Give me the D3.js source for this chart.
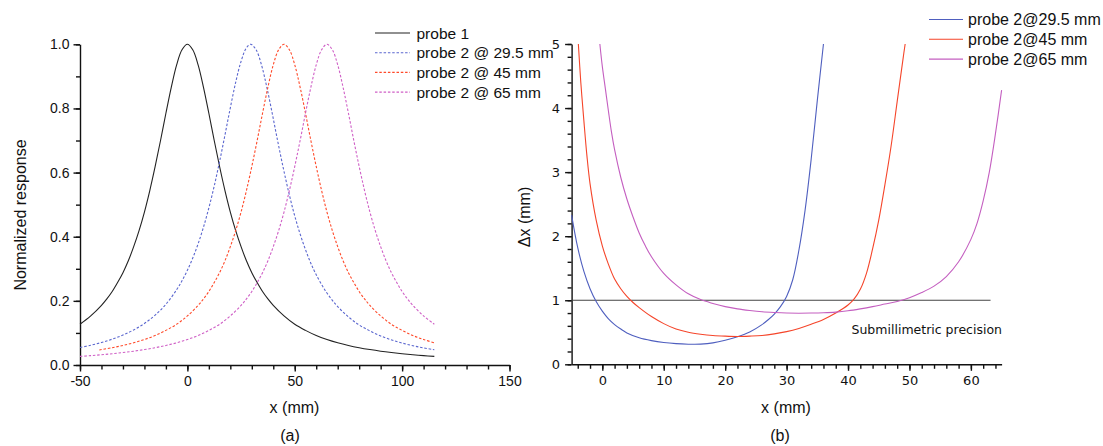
<!DOCTYPE html>
<html>
<head>
<meta charset="utf-8">
<script src="https://cdn.jsdelivr.net/npm/d3@7"></script>
<style>
  html, body { margin: 0; padding: 0; background: #fff; }
  svg { display: block; }
  text { font-family: "Liberation Sans", Arial, sans-serif; fill: #111; }
</style>
</head>
<body>
<svg id="chart" width="1103" height="446"></svg>
<script>
// ---------- Panel (a) data: normalized response ----------
const probe1X = [-50,-45,-40,-37.5,-35,-32.5,-30,-27.5,-25,-22.5,-20,-17.5,-15,-12.5,-10,-7.5,-5,-2.5,0,2.5,5,7.5,10,12.5,15,17.5,20,22.5,25,27.5,30,32.5,35,37.5,40,45,50,55,60,65,70,75,80,85,90,95,100,105,110,115];
const probe1Y = [0.127,0.153,0.186,0.206,0.229,0.257,0.288,0.325,0.369,0.419,0.477,0.544,0.619,0.70,0.785,0.866,0.936,0.983,1.0,0.983,0.936,0.866,0.785,0.70,0.619,0.544,0.477,0.419,0.369,0.325,0.288,0.257,0.229,0.206,0.186,0.153,0.127,0.108,0.092,0.0795,0.0693,0.0609,0.0539,0.0481,0.0431,0.0389,0.0352,0.032,0.0293,0.0268];

const p295X = [-50,-45,-40,-35,-30,-25,-20,-15,-10,-5,-2.5,0,2.5,5,7.5,10,12.5,15,17.5,20,22.5,25,27.5,29.5,32,34.5,37,39.5,42,44.5,47,49.5,52,54.5,57,59.5,64.5,69.5,74.5,79.5,84.5,89.5,94.5,99.5,104.5,109.5,115];
const p295Y = [0.0546,0.0617,0.0702,0.0806,0.0934,0.1094,0.1296,0.1556,0.1895,0.2346,0.2627,0.2954,0.3335,0.378,0.4298,0.4897,0.558,0.6345,0.717,0.802,0.8816,0.947,0.989,1.0,0.983,0.936,0.866,0.785,0.70,0.619,0.544,0.477,0.419,0.369,0.325,0.288,0.229,0.186,0.153,0.127,0.108,0.092,0.0795,0.0693,0.0609,0.0539,0.0475];

const p45X = [-41,-35,-30,-25,-20,-15,-10,-5,0,5,7.5,10,12.5,15,17.5,20,22.5,25,27.5,30,32.5,35,37.5,40,42.5,45,47.5,50,52.5,55,57.5,60,62.5,65,67.5,70,72.5,75,77.5,80,82.5,85,90,95,100,105,110,115];
const p45Y = [0.047,0.0539,0.0609,0.0693,0.0795,0.092,0.108,0.127,0.153,0.186,0.206,0.229,0.257,0.288,0.325,0.369,0.419,0.477,0.544,0.619,0.70,0.785,0.866,0.936,0.983,1.0,0.983,0.936,0.866,0.785,0.70,0.619,0.544,0.477,0.419,0.369,0.325,0.288,0.257,0.229,0.206,0.186,0.153,0.127,0.108,0.092,0.0795,0.0693];

const p65X = [-50,-45,-40,-35,-30,-25,-20,-15,-10,-5,0,5,10,15,20,25,27.5,30,32.5,35,37.5,40,42.5,45,47.5,50,52.5,55,57.5,60,62.5,65,67.5,70,72.5,75,77.5,80,82.5,85,87.5,90,92.5,95,97.5,100,102.5,105,110,115];
const p65Y = [0.0268,0.0293,0.032,0.0352,0.0389,0.0431,0.0481,0.0539,0.0609,0.0693,0.0795,0.092,0.108,0.127,0.153,0.186,0.206,0.229,0.257,0.288,0.325,0.369,0.419,0.477,0.544,0.619,0.70,0.785,0.866,0.936,0.983,1.0,0.983,0.936,0.866,0.785,0.70,0.619,0.544,0.477,0.419,0.369,0.325,0.288,0.257,0.229,0.206,0.186,0.153,0.127];

const legendA = ["probe 1", "probe 2 @ 29.5 mm", "probe 2 @ 45 mm", "probe 2 @ 65 mm"];
const xTicksA = [-50, 0, 50, 100, 150];
const yTicksA = [0, 0.2, 0.4, 0.6, 0.8, 1.0];

// ---------- Panel (b) data: position uncertainty ----------
const dx295X = [-5,-4,-3,-2,-1,0,1,2,3,4,6,8,10,12,14,15,16,18,20,22,24,26,27,28,29,30,31,32,33,34,35,36];
const dx295Y = [2.33,1.82,1.45,1.18,0.98,0.83,0.71,0.62,0.55,0.49,0.415,0.37,0.34,0.322,0.313,0.312,0.315,0.335,0.375,0.43,0.505,0.62,0.695,0.785,0.9,1.06,1.32,1.78,2.4,3.2,4.12,5.0];

const dx45X = [-3.9,-3.5,-3,-2.5,-2,-1,0,1,2,3,4,5,6,8,10,12,14,16,18,20,22,24,26,28,30,32,34,36,38,40,41,42,43,44,45,46,47,48,49,49.3];
const dx45Y = [5.0,4.4,3.8,3.25,2.82,2.25,1.85,1.56,1.33,1.18,1.06,0.965,0.885,0.745,0.635,0.55,0.5,0.47,0.45,0.44,0.435,0.44,0.45,0.475,0.51,0.56,0.625,0.70,0.80,0.925,1.02,1.17,1.42,1.8,2.25,2.8,3.4,4.1,4.8,5.0];

const dx65X = [-0.4,0,0.5,1,1.5,2,3,4,5,6,7,8,10,12,14,16,18,20,22,24,26,28,30,32,34,36,38,40,42,44,46,48,50,52,54,56,58,60,61,62,63,64,65];
const dx65Y = [5.0,4.65,4.3,3.95,3.62,3.35,2.92,2.58,2.3,2.05,1.85,1.68,1.42,1.24,1.1,1.01,0.95,0.9,0.865,0.84,0.82,0.808,0.8,0.798,0.8,0.805,0.815,0.835,0.865,0.9,0.94,0.98,1.04,1.12,1.22,1.37,1.6,1.95,2.2,2.55,3.0,3.6,4.28];

const legendB = ["probe 2@29.5 mm", "probe 2@45 mm", "probe 2@65 mm"];
const xTicksB = [0, 10, 20, 30, 40, 50, 60];
const yTicksB = [0, 1, 2, 3, 4, 5];
const thresholdX = [-5, 63.2];
const thresholdY = [1, 1];

// ---------- Drawing ----------
const svg = d3.select("#chart");
const colBlackA = "#222", colBlueA = "#5b67cf", colRedA = "#ff4a2a", colMagA = "#cf5fc6";
const colBlueB = "#4f5fbf", colRedB = "#f5452a", colMagB = "#c45fc0";

function zip(xs, ys) { return xs.map((x, i) => [x, ys[i]]); }

// Panel (a)
const xA = d3.scaleLinear().domain([-50, 150]).range([80, 509.5]);
const yA = d3.scaleLinear().domain([0, 1]).range([365, 44.3]);
const gA = svg.append("g");

gA.append("g").attr("transform", `translate(0,${yA(0)})`)
  .call(d3.axisBottom(xA).tickValues(d3.range(-50, 151, 10)).tickSize(4.5).tickFormat(""))
  .call(g => g.select(".domain").remove());
gA.append("g").attr("transform", `translate(0,${yA(0)})`)
  .call(d3.axisBottom(xA).tickValues(xTicksA).tickSize(6.5).tickSizeOuter(0).tickPadding(5).tickFormat(d => String(d)))
  .call(g => g.selectAll("text").style("font-size", "14px").style("font-family", "Liberation Sans"));
gA.append("g").attr("transform", `translate(${xA(-50)},0)`)
  .call(d3.axisLeft(yA).tickValues(d3.range(0, 1.01, 0.1)).tickSize(4).tickFormat(""))
  .call(g => g.select(".domain").remove());
gA.append("g").attr("transform", `translate(${xA(-50)},0)`)
  .call(d3.axisLeft(yA).tickValues(yTicksA).tickSize(6.5).tickSizeOuter(0).tickPadding(4).tickFormat(d3.format(".1f")))
  .call(g => g.selectAll("text").style("font-size", "14px").style("font-family", "Liberation Sans"));
gA.selectAll(".domain, .tick line").attr("stroke", "#111").attr("stroke-width", 1.4);

const lineA = d3.line().x(d => xA(d[0])).y(d => yA(d[1])).curve(d3.curveCatmullRom.alpha(0.5));
const seriesA = [
  { data: zip(probe1X, probe1Y), color: colBlackA, dash: null },
  { data: zip(p295X, p295Y), color: colBlueA, dash: "2.5,1.8" },
  { data: zip(p45X, p45Y), color: colRedA, dash: "2.5,1.8" },
  { data: zip(p65X, p65Y), color: colMagA, dash: "2.5,1.8" }
];
seriesA.forEach(s => {
  gA.append("path").datum(s.data).attr("d", lineA)
    .attr("fill", "none").attr("stroke", s.color).attr("stroke-width", 1.1)
    .attr("stroke-dasharray", s.dash);
});

// legend (a)
seriesA.forEach((s, i) => {
  const y = 33 + i * 19.7;
  gA.append("line").attr("x1", 375).attr("x2", 410).attr("y1", y).attr("y2", y)
    .attr("stroke", s.color).attr("stroke-width", 1.1).attr("stroke-dasharray", s.dash);
  gA.append("text").attr("x", 416.5).attr("y", y + 5.6).style("font-size", "15.5px").text(legendA[i]);
});

gA.append("text").attr("x", 294.5).attr("y", 413).attr("text-anchor", "middle").style("font-size", "16px").text("x (mm)");
gA.append("text").attr("x", 290).attr("y", 441).attr("text-anchor", "middle").style("font-size", "16px").text("(a)");
gA.append("text").attr("transform", "translate(25.5,215) rotate(-90)").attr("text-anchor", "middle").style("font-size", "16px").text("Normalized response");

// Panel (b)
const xB = d3.scaleLinear().domain([-5, 65]).range([571.6, 1001.6]);
const yB = d3.scaleLinear().domain([0, 5]).range([364.3, 44]);
const gB = svg.append("g");

gB.append("g").attr("transform", `translate(0,${yB(0)})`)
  .call(d3.axisBottom(xB).tickValues(d3.range(-4, 65, 2)).tickSize(4.5).tickFormat(""))
  .call(g => g.select(".domain").remove());
gB.append("g").attr("transform", `translate(0,${yB(0)})`)
  .call(d3.axisBottom(xB).tickValues(xTicksB).tickSize(6.5).tickSizeOuter(0).tickPadding(5).tickFormat(d => String(d)))
  .call(g => g.selectAll("text").style("font-size", "13px").style("font-family", "DejaVu Sans"));
gB.append("g").attr("transform", `translate(${xB(-5)},0)`)
  .call(d3.axisLeft(yB).tickValues(d3.range(0, 5.01, 0.2)).tickSize(4).tickFormat(""))
  .call(g => g.select(".domain").remove());
gB.append("g").attr("transform", `translate(${xB(-5)},0)`)
  .call(d3.axisLeft(yB).tickValues(yTicksB).tickSize(6.5).tickSizeOuter(0).tickPadding(5).tickFormat(d => String(d)))
  .call(g => g.selectAll("text").style("font-size", "13px").style("font-family", "DejaVu Sans"));
gB.selectAll(".domain, .tick line").attr("stroke", "#111").attr("stroke-width", 1.4);

const lineB = d3.line().x(d => xB(d[0])).y(d => yB(d[1])).curve(d3.curveCatmullRom.alpha(0.5));
gB.append("path").datum(zip(thresholdX, thresholdY)).attr("d", d3.line().x(d => xB(d[0])).y(d => yB(d[1])))
  .attr("fill", "none").attr("stroke", "#444").attr("stroke-width", 1.1);

const seriesB = [
  { data: zip(dx295X, dx295Y), color: colBlueB },
  { data: zip(dx45X, dx45Y), color: colRedB },
  { data: zip(dx65X, dx65Y), color: colMagB }
];
seriesB.forEach(s => {
  gB.append("path").datum(s.data).attr("d", lineB)
    .attr("fill", "none").attr("stroke", s.color).attr("stroke-width", 1.1);
});

seriesB.forEach((s, i) => {
  const y = 19.5 + i * 19.8;
  gB.append("line").attr("x1", 929).attr("x2", 963).attr("y1", y).attr("y2", y)
    .attr("stroke", s.color).attr("stroke-width", 1.1);
  gB.append("text").attr("x", 968).attr("y", y + 5.5).style("font-size", "16px").text(legendB[i]);
});

gB.append("text").attr("x", 1002).attr("y", 334).attr("text-anchor", "end")
  .style("font-size", "12.5px").style("font-family", "DejaVu Sans").text("Submillimetric precision");

gB.append("text").attr("x", 786).attr("y", 413).attr("text-anchor", "middle").style("font-size", "16px").text("x (mm)");
gB.append("text").attr("x", 780).attr("y", 441).attr("text-anchor", "middle").style("font-size", "16px").text("(b)");
gB.append("text").attr("transform", "translate(530,217) rotate(-90)").attr("text-anchor", "middle").style("font-size", "16px").text("Δx (mm)");
</script>
</body>
</html>
